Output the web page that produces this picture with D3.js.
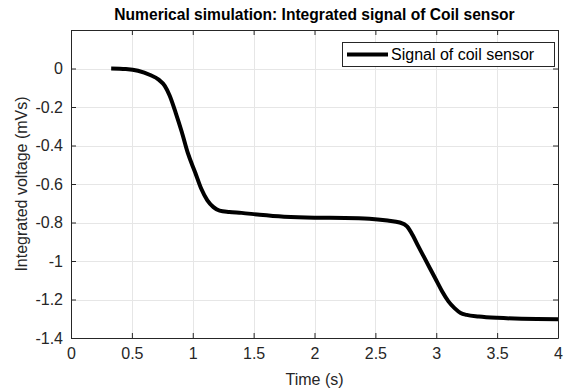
<html>
<head>
<title>Integrated signal of Coil sensor</title>
<script src="https://d3js.org/d3.v7.min.js" charset="utf-8"></script>
<style>
body { margin: 0; background: white; font-family: Arial, "Liberation Sans", sans-serif; }
</style>
</head>
<body>
<script>
// data
var timeS = [0.33, 0.45, 0.55, 0.65, 0.72, 0.77, 0.81, 0.86, 0.91, 0.96, 1.02, 1.07, 1.12, 1.17, 1.22, 1.30, 1.40, 1.55, 1.75, 2.0, 2.25, 2.45, 2.6, 2.7, 2.76, 2.81, 2.85, 2.9, 2.95, 3.0, 3.05, 3.1, 3.15, 3.2, 3.25, 3.35, 3.5, 3.7, 4.0];
var voltage = [0, -0.003, -0.012, -0.034, -0.058, -0.09, -0.14, -0.23, -0.33, -0.44, -0.54, -0.625, -0.685, -0.72, -0.738, -0.745, -0.75, -0.76, -0.77, -0.775, -0.776, -0.78, -0.79, -0.80, -0.82, -0.87, -0.92, -0.98, -1.04, -1.10, -1.16, -1.21, -1.245, -1.27, -1.28, -1.288, -1.295, -1.30, -1.302];
var xTicks = [0, 0.5, 1, 1.5, 2, 2.5, 3, 3.5, 4];
var yTicks = [-1.4, -1.2, -1, -0.8, -0.6, -0.4, -0.2, 0];
var seriesName = "Signal of coil sensor";

var width = 564, height = 389;
var margin = {left: 71, right: 6, top: 30, bottom: 51};
var axisColor = "#262626";
var fontSize = "16px";

var svg = d3.select("body").append("svg")
    .attr("width", width)
    .attr("height", height);

var x = d3.scaleLinear().domain([0, 4]).range([margin.left, width - margin.right]);
var y = d3.scaleLinear().domain([-1.4, 0.2]).range([height - margin.bottom, margin.top]);

// grid lines
var grid = svg.append("g").attr("stroke", "#e6e6e6").attr("stroke-width", 1);
grid.selectAll(".gx").data(xTicks).enter().append("line")
    .attr("x1", d => Math.round(x(d)) + 0.5).attr("x2", d => Math.round(x(d)) + 0.5)
    .attr("y1", y(0.2)).attr("y2", y(-1.4));
grid.selectAll(".gy").data(yTicks.concat([0.2])).enter().append("line")
    .attr("y1", d => Math.round(y(d)) + 0.5).attr("y2", d => Math.round(y(d)) + 0.5)
    .attr("x1", x(0)).attr("x2", x(4));

// axes, ticks pointing inward like matlab
var xAxis = svg.append("g")
    .attr("transform", "translate(0," + y(-1.4) + ")")
    .call(d3.axisBottom(x).tickValues(xTicks).tickSizeInner(-5).tickSizeOuter(0).tickPadding(10).tickFormat(String));
var yAxis = svg.append("g")
    .attr("transform", "translate(" + x(0) + ",0)")
    .call(d3.axisLeft(y).tickValues(yTicks).tickSizeInner(-5).tickSizeOuter(0).tickPadding(8).tickFormat(String));
var xTop = svg.append("g")
    .attr("transform", "translate(0," + y(0.2) + ")")
    .call(d3.axisTop(x).tickValues(xTicks).tickSizeInner(-5).tickSizeOuter(0).tickFormat(""));
var yRight = svg.append("g")
    .attr("transform", "translate(" + x(4) + ",0)")
    .call(d3.axisRight(y).tickValues(yTicks.concat([0.2])).tickSizeInner(-5).tickSizeOuter(0).tickFormat(""));

[xAxis, yAxis, xTop, yRight].forEach(function(a) {
    a.selectAll("path").attr("stroke", axisColor);
    a.selectAll("line").attr("stroke", axisColor);
    a.selectAll("text").attr("fill", axisColor).style("font-size", fontSize)
        .style("font-family", "Arial, 'Liberation Sans', sans-serif");
});

// the signal
var line = d3.line()
    .x((d, i) => x(timeS[i]))
    .y(d => y(d))
    .curve(d3.curveMonotoneX);
svg.append("path")
    .datum(voltage)
    .attr("fill", "none")
    .attr("stroke", "black")
    .attr("stroke-width", 4)
    .attr("stroke-linejoin", "round")
    .attr("d", line);

// title and labels
svg.append("text")
    .attr("x", (x(0) + x(4)) / 2).attr("y", 20)
    .attr("text-anchor", "middle")
    .style("font-size", "15.6px").style("font-weight", "bold")
    .attr("fill", "black")
    .text("Numerical simulation: Integrated signal of Coil sensor");
svg.append("text")
    .attr("x", (x(0) + x(4)) / 2).attr("y", 385)
    .attr("text-anchor", "middle")
    .style("font-size", fontSize).attr("fill", axisColor)
    .text("Time (s)");
svg.append("text")
    .attr("transform", "translate(27," + (y(-0.6)) + ") rotate(-90)")
    .attr("text-anchor", "middle")
    .style("font-size", fontSize).attr("fill", axisColor)
    .text("Integrated voltage (mVs)");

// legend
var lg = svg.append("g").attr("transform", "translate(342,42)");
lg.append("rect").attr("x", 0.5).attr("y", 0.5).attr("width", 212).attr("height", 24)
    .attr("fill", "white").attr("stroke", axisColor).attr("stroke-width", 1);
lg.append("line").attr("x1", 5).attr("x2", 46).attr("y1", 12.5).attr("y2", 12.5)
    .attr("stroke", "black").attr("stroke-width", 4);
lg.append("text").attr("x", 49).attr("y", 18)
    .style("font-size", fontSize).attr("fill", "black")
    .text(seriesName);
</script>
</body>
</html>
